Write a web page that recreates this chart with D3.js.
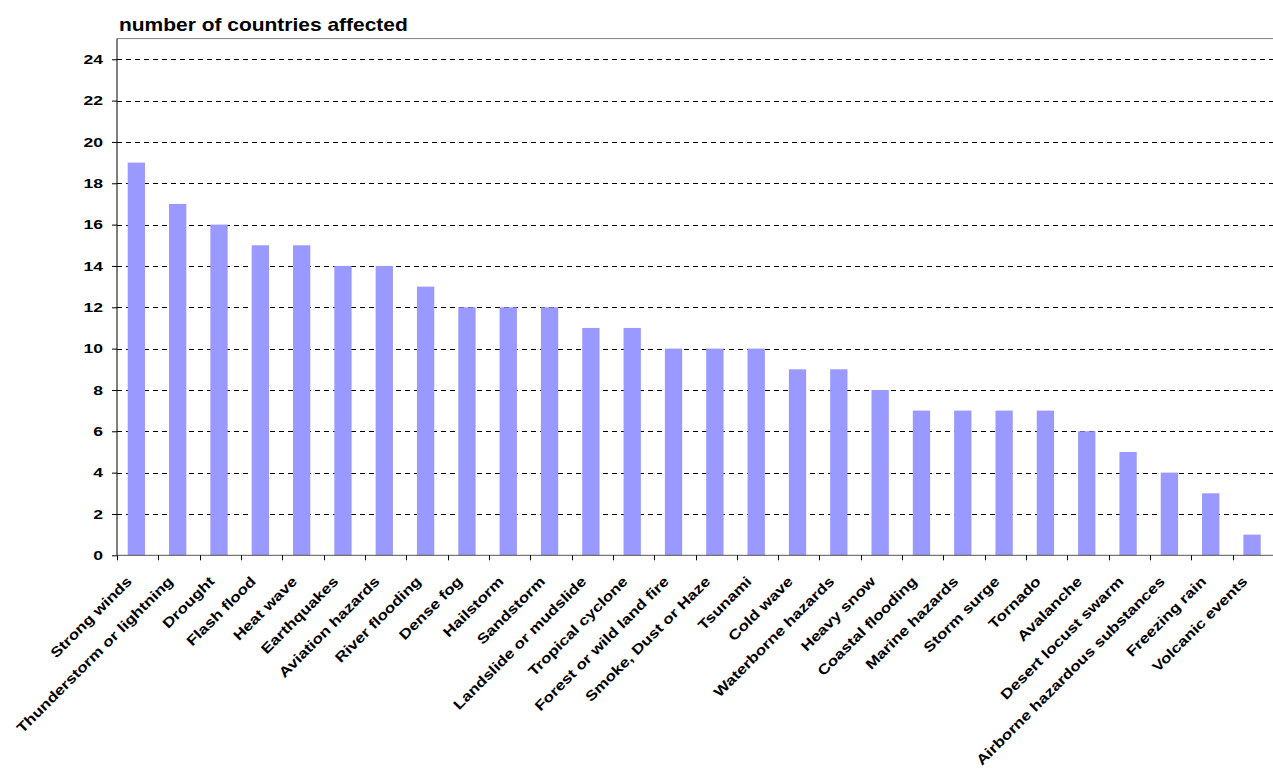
<!DOCTYPE html>
<html>
<head>
<meta charset="utf-8">
<script src="https://cdn.jsdelivr.net/npm/d3@7"></script>
<style>
  html, body { margin: 0; padding: 0; background: #fff; }
  svg { display: block; font-family: "Liberation Sans", Arial, sans-serif; }
</style>
</head>
<body>
<svg id="chart" width="1273" height="768"></svg>
<script>
// Hazard types and the number of countries affected by each
const hazards = [
  "Strong winds", "Thunderstorm or lightning", "Drought", "Flash flood", "Heat wave",
  "Earthquakes", "Aviation hazards", "River flooding", "Dense fog", "Hailstorm",
  "Sandstorm", "Landslide or mudslide", "Tropical cyclone", "Forest or wild land fire",
  "Smoke, Dust or Haze", "Tsunami", "Cold wave", "Waterborne hazards", "Heavy snow",
  "Coastal flooding", "Marine hazards", "Storm surge", "Tornado", "Avalanche",
  "Desert locust swarm", "Airborne hazardous substances", "Freezing rain", "Volcanic events"
];
const countries = [19, 17, 16, 15, 15, 14, 14, 13, 12, 12, 12, 11, 11, 10, 10, 10, 9, 9, 8, 7, 7, 7, 7, 6, 5, 4, 3, 1];
const yTicks = [0, 2, 4, 6, 8, 10, 12, 14, 16, 18, 20, 22, 24];
const yMax = 25;

const svg = d3.select("#chart");
const plotL = 117, plotR = 1274, plotT = 38.6, plotB = 555.3;

const x = d3.scaleBand().domain(hazards).range([plotL, plotR]).paddingInner(0).paddingOuter(0);
const y = d3.scaleLinear().domain([0, yMax]).range([plotB, plotT]);

// Title (wide bold face)
svg.append("text")
  .attr("transform", "translate(119,31) scale(1.165,1)")
  .attr("font-size", 18).attr("font-weight", "bold").attr("fill", "#000")
  .text("number of countries affected");

// Plot frame top edge
svg.append("line")
  .attr("x1", plotL).attr("x2", plotR).attr("y1", plotT).attr("y2", plotT)
  .attr("stroke", "#808080").attr("stroke-width", 1);

// Dashed horizontal gridlines
svg.append("g").selectAll("line")
  .data(yTicks.filter(d => d > 0))
  .join("line")
  .attr("x1", plotL).attr("x2", plotR)
  .attr("y1", d => Math.round(y(d)) + 0.5).attr("y2", d => Math.round(y(d)) + 0.5)
  .attr("stroke", "#000").attr("stroke-width", 1)
  .attr("stroke-dasharray", "5,4");

// Bars
const barW = 17.3;
svg.append("g").selectAll("rect")
  .data(countries)
  .join("rect")
  .attr("x", (d, i) => x(hazards[i]) + x.bandwidth() / 2 - barW / 2 - 1.3)
  .attr("y", d => y(d))
  .attr("width", barW)
  .attr("height", d => plotB - y(d))
  .attr("fill", "#9999ff");

// Y axis line and ticks
const yAxis = svg.append("g")
  .attr("transform", `translate(${plotL},0)`)
  .call(d3.axisLeft(y).tickValues(yTicks).tickSize(5).tickFormat(""));
yAxis.select(".domain").attr("stroke", "#000").attr("d", `M0,${plotT}V${plotB}`);
yAxis.selectAll(".tick line").attr("stroke", "#000");

// Y tick labels
svg.append("g").selectAll("text")
  .data(yTicks)
  .join("text")
  .attr("transform", d => `translate(103,${y(d)}) scale(1.3,1)`)
  .attr("dy", "0.36em")
  .attr("text-anchor", "end")
  .attr("font-size", 13.5).attr("font-weight", "bold").attr("fill", "#000")
  .text(d => d3.format("d")(d));

// X axis baseline and ticks at band boundaries
const xg = svg.append("g");
xg.append("line")
  .attr("x1", plotL).attr("x2", plotR).attr("y1", plotB).attr("y2", plotB)
  .attr("stroke", "#555").attr("stroke-width", 1);
xg.selectAll("line.tk")
  .data(d3.range(hazards.length + 1))
  .join("line").attr("class", "tk")
  .attr("x1", i => Math.round(plotL + i * x.bandwidth()) + 0.5)
  .attr("x2", i => Math.round(plotL + i * x.bandwidth()) + 0.5)
  .attr("y1", plotB).attr("y2", plotB + 5)
  .attr("stroke", "#000");

// Rotated category labels
xg.selectAll("text")
  .data(hazards)
  .join("text")
  .attr("transform", d => `translate(${x(d) + x.bandwidth() / 2 - 5},${plotB + 27}) rotate(-45) scale(1.22,1)`)
  .attr("text-anchor", "end")
  .attr("font-size", 14).attr("font-weight", "bold").attr("fill", "#000")
  .text(d => d);
</script>
</body>
</html>
